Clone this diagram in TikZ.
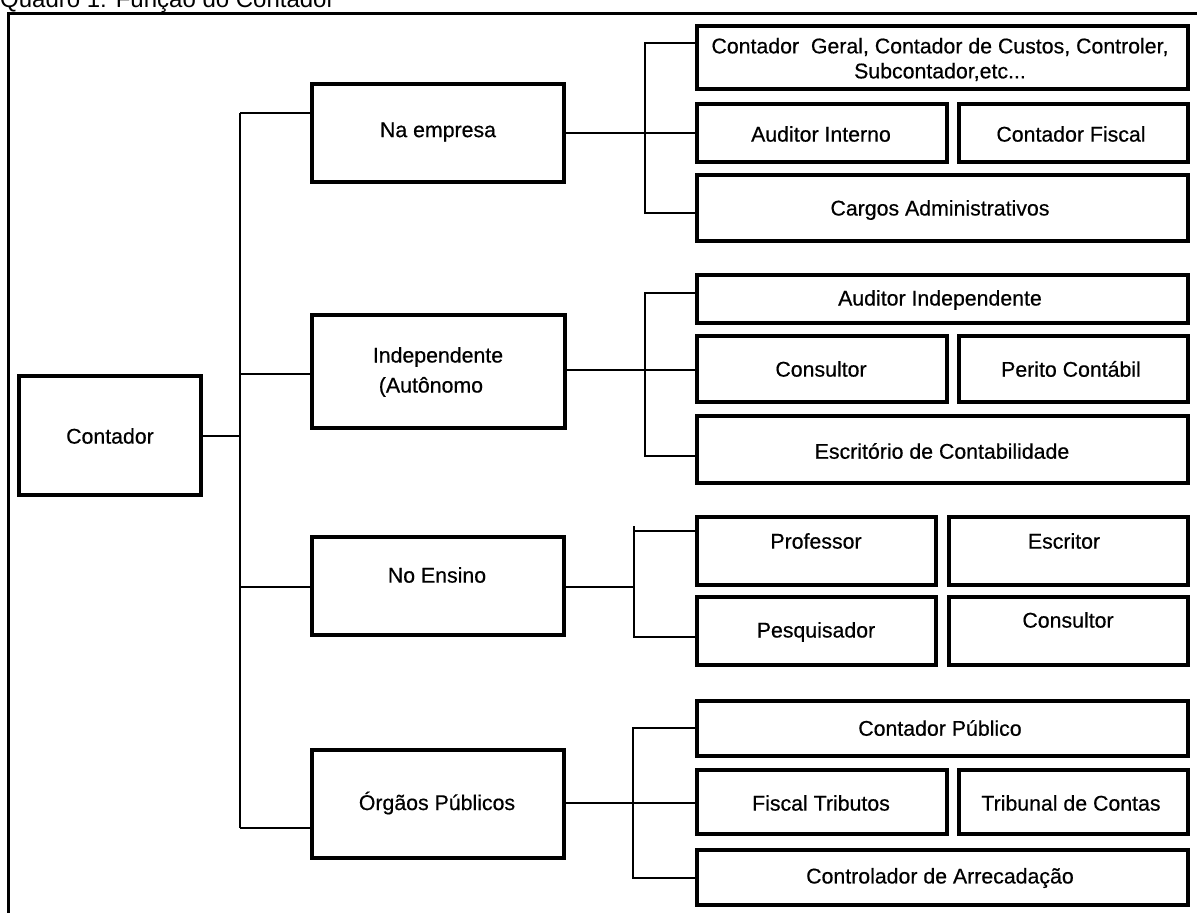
\documentclass[tikz,border=0pt]{standalone}
\usepackage{fontspec}
\setmainfont{Liberation Sans}
\newfontfamily\heavyfont[FakeBold=0.5]{Liberation Sans}
\begin{document}
\begin{tikzpicture}[x=1pt,y=-1pt,
  box/.style={draw, line width=4pt, inner sep=0pt},
  txt/.style={font=\heavyfont\fontsize{21.3}{25}\selectfont, inner sep=0pt, align=center},
  conn/.style={line width=1.6pt},
  frame/.style={line width=3pt}]
\useasboundingbox (0,0) rectangle (1197,913);
% title (cut at the top)
\node[anchor=base west, font=\fontsize{24}{28}\selectfont, inner sep=0pt] (title) at (0,7) {Quadro 1: Função do Contador};
\draw[frame] (8,913) -- (8,13) -- (1197,13);

% left boxes
\node[box, minimum width=182pt, minimum height=119pt] (cont) at (110,435.5) {};
\node[txt] (contT) at (110,436) {Contador};
\node[box, minimum width=252pt, minimum height=98pt] (na) at (438,133) {};
\node[txt] (naT) at (438,132) {Na empresa};
\node[box, minimum width=253pt, minimum height=113pt] (ind) at (438.5,371.5) {};
\node[txt, align=left] (indT) at (438,372) {Independente\\[5pt]\hspace*{6pt}(Autônomo};
\node[box, minimum width=252pt, minimum height=98pt] (ens) at (438,586) {};
\node[txt] (ensT) at (437,575) {No Ensino};
\node[box, minimum width=252pt, minimum height=108pt] (org) at (438,804) {};
\node[txt] (orgT) at (437,803) {Órgãos Públicos};

% Na empresa group
\node[box, minimum width=491pt, minimum height=63pt] (a1) at (942.5,57.5) {};
\node[txt] (a1T) at (940,59.5) {Contador\ \ Geral, Contador de Custos, Controler,\\Subcontador,etc...};
\node[box, minimum width=250pt, minimum height=58pt] (a2) at (822,133) {};
\node[txt] (a2T) at (821,134) {Auditor Interno};
\node[box, minimum width=229pt, minimum height=58pt] (a3) at (1073.5,133) {};
\node[txt] (a3T) at (1071,134) {Contador Fiscal};
\node[box, minimum width=491pt, minimum height=66pt] (a4) at (942.5,208) {};
\node[txt] (a4T) at (940,210) {Cargos Administrativos};

% Independente group
\node[box, minimum width=491pt, minimum height=48pt] (b1) at (942.5,299) {};
\node[txt] (b1T) at (940,300) {Auditor Independente};
\node[box, minimum width=250pt, minimum height=66pt] (b2) at (822,369) {};
\node[txt] (b2T) at (821,369) {Consultor};
\node[box, minimum width=229pt, minimum height=66pt] (b3) at (1073.5,369) {};
\node[txt] (b3T) at (1071,369) {Perito Contábil};
\node[box, minimum width=491pt, minimum height=67pt] (b4) at (942.5,449.5) {};
\node[txt] (b4T) at (942,451) {Escritório de Contabilidade};

% No Ensino group
\node[box, minimum width=239pt, minimum height=68pt] (c1) at (816.5,551) {};
\node[txt] (c1T) at (816,541) {Professor};
\node[box, minimum width=239pt, minimum height=68pt] (c2) at (1068.5,551) {};
\node[txt] (c2T) at (1064,541) {Escritor};
\node[box, minimum width=239pt, minimum height=68pt] (c3) at (816.5,631) {};
\node[txt] (c3T) at (816,632) {Pesquisador};
\node[box, minimum width=239pt, minimum height=68pt] (c4) at (1068.5,631) {};
\node[txt] (c4T) at (1068,620) {Consultor};

% Orgaos group
\node[box, minimum width=491pt, minimum height=55pt] (d1) at (942.5,728.5) {};
\node[txt] (d1T) at (940,728) {Contador Público};
\node[box, minimum width=250pt, minimum height=64pt] (d2) at (822,802) {};
\node[txt] (d2T) at (821,803) {Fiscal Tributos};
\node[box, minimum width=229pt, minimum height=64pt] (d3) at (1073.5,802) {};
\node[txt] (d3T) at (1071,803) {Tribunal de Contas};
\node[box, minimum width=491pt, minimum height=55pt] (d4) at (942.5,877.5) {};
\node[txt] (d4T) at (940,878) {Controlador de Arrecadação};

% trunk
\coordinate (t1) at (240,113);
\coordinate (t2) at (240,374);
\coordinate (t3) at (240,587);
\coordinate (t4) at (240,828);
\coordinate (t0) at (240,436);
\draw[conn] (t1) -- (t4);
\draw[conn] (cont.east |- t0) -- (t0);
\draw[conn] (t1) -- (t1 -| na.west);
\draw[conn] (t2) -- (t2 -| ind.west);
\draw[conn] (t3) -- (t3 -| ens.west);
\draw[conn] (t4) -- (t4 -| org.west);

% Na empresa branch
\coordinate (ba1) at (645,43);
\coordinate (ba2) at (645,213);
\draw[conn] (na.east) -- (na.east -| a2.west);
\draw[conn] (a1.west |- ba1) -- (ba1) -- (ba2) -- (ba2 -| a4.west);

% Independente branch
\coordinate (bb0) at (565,370);
\coordinate (bb1) at (645,293);
\coordinate (bb2) at (645,456);
\draw[conn] (bb0) -- (bb0 -| b2.west);
\draw[conn] (b1.west |- bb1) -- (bb1) -- (bb2) -- (bb2 -| b4.west);

% No Ensino branch
\coordinate (bc0) at (634,587);
\coordinate (bc1) at (634,531);
\coordinate (bcT) at (634,526);
\coordinate (bc2) at (634,637);
\draw[conn] (ens.east |- bc0) -- (bc0);
\draw[conn] (bcT) -- (bc2) -- (bc2 -| c3.west);
\draw[conn] (bc1) -- (bc1 -| c1.west);

% Orgaos branch
\coordinate (bd0) at (565,803);
\coordinate (bd1) at (633,728);
\coordinate (bd2) at (633,878);
\draw[conn] (bd0) -- (bd0 -| d2.west);
\draw[conn] (d1.west |- bd1) -- (bd1) -- (bd2) -- (bd2 -| d4.west);
\end{tikzpicture}
\end{document}
